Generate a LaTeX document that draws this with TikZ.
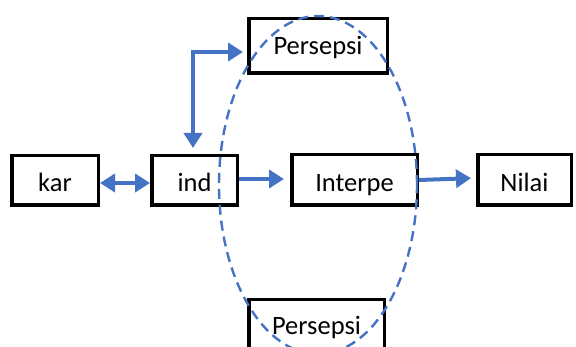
\documentclass[tikz,border=0pt]{standalone}
\usepackage{fontspec}
\setmainfont{Carlito}
\usetikzlibrary{arrows.meta}
\definecolor{flowblue}{HTML}{4472C4}
\begin{document}
\begin{tikzpicture}[x=1pt,y=-1pt,
  stagebox/.style={draw=black, line width=3.5pt, fill=white, inner sep=0pt,
    font=\fontsize{26.5pt}{30pt}\selectfont, text height=23pt, text depth=0pt},
  percbox/.style={stagebox, text height=16.7pt},
  flow/.style={draw=flowblue, line width=4pt,
    -{Triangle[length=15pt,width=18pt]}},
  twoway/.style={flow, {Triangle[length=15pt,width=18pt]}-{Triangle[length=15pt,width=18pt]}},
  groupring/.style={draw=flowblue, line width=2.4pt, dash pattern=on 10pt off 6pt}]
\useasboundingbox (0,0) rectangle (576,347);

% stages of the process
\node[stagebox, minimum width=86.5pt, minimum height=49.5pt] (kar) at (55,180.5) {kar};
\node[stagebox, minimum width=85.5pt, minimum height=49.5pt] (ind) at (194.5,180.5) {ind};
\node[stagebox, minimum width=125.5pt, minimum height=50.5pt] (interpe) at (354.5,180) {Interpe};
\node[stagebox, minimum width=93.5pt, minimum height=50.5pt] (nilai) at (524.5,180) {Nilai};
\node[percbox, minimum width=138.5pt, minimum height=54.5pt] (persT) at (318,46) {Persepsi};
\node[percbox, minimum width=135.5pt, minimum height=53.5pt] (persB) at (316.5,326.5) {Persepsi};

% connectors
\draw[twoway] ([yshift=-2.5pt]kar.east) -- ([yshift=-2.5pt]ind.west);
\draw[flow, shorten >=6pt] ([yshift=1.5pt]ind.east) -- ([yshift=1pt]interpe.west);
\draw[flow, shorten >=5pt] (interpe.east) -- ([yshift=2pt]nilai.west);
\draw[twoway, shorten <=6pt, shorten >=4pt]
  ([xshift=-1.5pt]ind.north) |- ([yshift=-6pt]persT.west);

% dashed grouping ring
\draw[groupring] (318,185) ellipse [x radius=99pt, y radius=169pt];
\end{tikzpicture}
\end{document}
